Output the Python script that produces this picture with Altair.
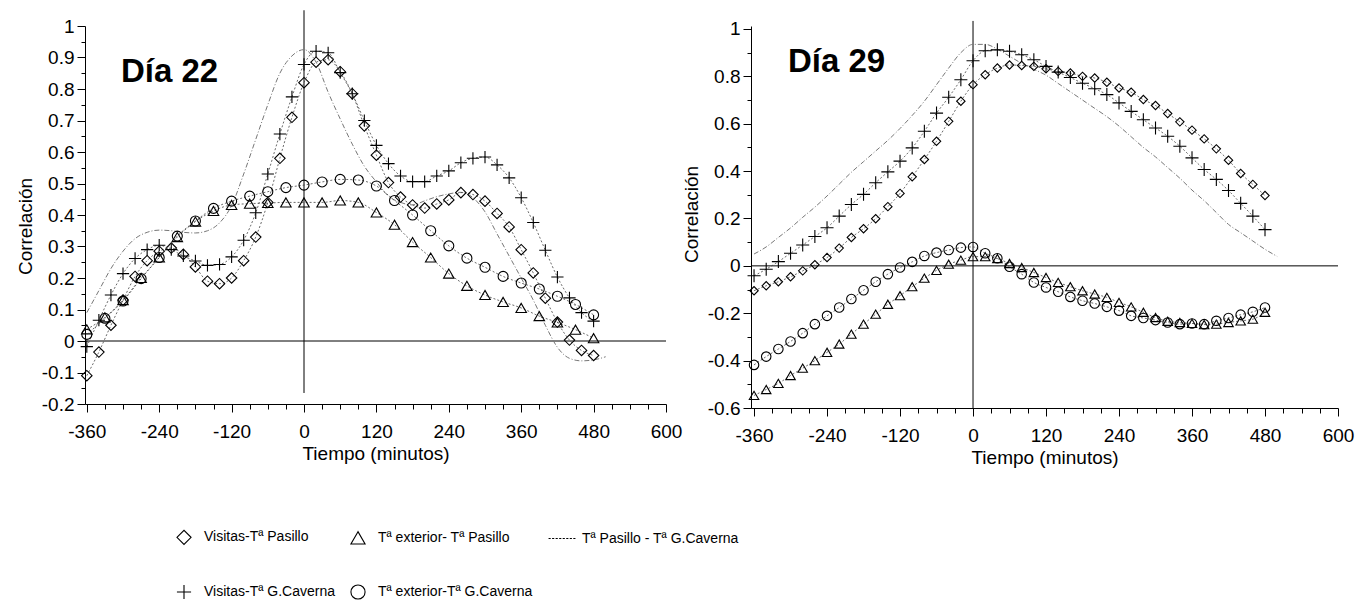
import altair as alt
import pandas as pd

FONT = "Liberation Sans"

NAMES = ["Visitas-Tª Pasillo", "Visitas-Tª G.Caverna", "Tª exterior- Tª Pasillo",
         "Tª exterior-Tª G.Caverna", "Tª Pasillo  - Tª G.Caverna"]
DOTTED = "M-1.9,0L-1.6,0M-1.4,0L-1.1,0M-0.9,0L-0.6,0M-0.4,0L-0.1,0M0.1,0L0.4,0M0.6,0L0.9,0M1.1,0L1.4,0M1.6,0L1.9,0"
SHAPES = ["diamond", "M-1,0L1,0M0,-1L0,1", "triangle-up", "circle", DOTTED]

# time grids (minutes)
t20 = [-360, -340, -320, -300, -280, -260, -240, -220, -200, -180,
       -160, -140, -120, -100, -80, -60, -40, -20, 0, 20,
       40, 60, 80, 100, 120, 140, 160, 180, 200, 220,
       240, 260, 280, 300, 320, 340, 360, 380, 400, 420,
       440, 460, 480]
t30 = [-360, -330, -300, -270, -240, -210, -180, -150, -120, -90,
       -60, -30, 0, 30, 60, 90, 120, 150, 180, 210,
       240, 270, 300, 330, 360, 390, 420, 450, 480]
t20_line = t20 + [500]

# ---- Día 22 ----
d22_visitas_pasillo = [-0.11, -0.035, 0.05, 0.13, 0.205, 0.255, 0.285, 0.295, 0.275, 0.235,
                       0.19, 0.182, 0.2, 0.255, 0.33, 0.44, 0.58, 0.71, 0.82, 0.885,
                       0.893, 0.855, 0.785, 0.683, 0.59, 0.503, 0.457, 0.432, 0.422, 0.435,
                       0.448, 0.471, 0.465, 0.444, 0.405, 0.362, 0.29, 0.216, 0.136, 0.06,
                       0.003, -0.03, -0.046]
d22_visitas_caverna = [-0.018, 0.066, 0.146, 0.214, 0.262, 0.29, 0.304, 0.29, 0.27, 0.254,
                       0.24, 0.243, 0.267, 0.32, 0.407, 0.53, 0.657, 0.775, 0.878, 0.92,
                       0.915, 0.852, 0.785, 0.7, 0.621, 0.563, 0.524, 0.506, 0.506, 0.524,
                       0.54, 0.566, 0.58, 0.584, 0.559, 0.518, 0.455, 0.376, 0.288, 0.203,
                       0.137, 0.09, 0.063]
d22_exterior_caverna = [0.021, 0.072, 0.127, 0.198, 0.265, 0.333, 0.381, 0.421, 0.444, 0.46,
                        0.474, 0.487, 0.495, 0.505, 0.513, 0.511, 0.492, 0.446, 0.4, 0.35,
                        0.302, 0.263, 0.234, 0.205, 0.184, 0.165, 0.142, 0.116, 0.083]
d22_exterior_pasillo = [0.037, 0.075, 0.13, 0.2, 0.265, 0.33, 0.379, 0.413, 0.432, 0.436,
                        0.438, 0.44, 0.44, 0.44, 0.446, 0.44, 0.408, 0.369, 0.314, 0.265,
                        0.214, 0.175, 0.146, 0.124, 0.105, 0.079, 0.059, 0.036, 0.009]
d22_pasillo_caverna = [0.09, 0.16, 0.23, 0.285, 0.325, 0.345, 0.352, 0.35, 0.345, 0.343,
                       0.35, 0.375, 0.43, 0.53, 0.64, 0.75, 0.85, 0.905, 0.925, 0.885,
                       0.79, 0.705, 0.625, 0.555, 0.505, 0.46, 0.44, 0.432, 0.445, 0.458,
                       0.467, 0.472, 0.455, 0.41, 0.34, 0.27, 0.2, 0.13, 0.05, -0.02,
                       -0.055, -0.063, -0.06, -0.05]

# ---- Día 29 ----
d29_visitas_pasillo = [-0.105, -0.084, -0.067, -0.046, -0.021, 0.005, 0.035, 0.075, 0.12, 0.157,
                       0.199, 0.25, 0.306, 0.376, 0.449, 0.526, 0.61, 0.695, 0.765, 0.807,
                       0.835, 0.848, 0.846, 0.842, 0.832, 0.821, 0.814, 0.8, 0.793, 0.775,
                       0.751, 0.733, 0.702, 0.677, 0.643, 0.608, 0.573, 0.536, 0.494, 0.446,
                       0.39, 0.344, 0.297]
d29_visitas_caverna = [-0.042, -0.014, 0.018, 0.053, 0.088, 0.124, 0.161, 0.21, 0.259, 0.302,
                       0.351, 0.397, 0.442, 0.498, 0.568, 0.645, 0.712, 0.786, 0.866, 0.908,
                       0.912, 0.906, 0.891, 0.87, 0.842, 0.818, 0.795, 0.771, 0.748, 0.723,
                       0.688, 0.652, 0.617, 0.582, 0.547, 0.505, 0.456, 0.407, 0.365, 0.318,
                       0.264, 0.21, 0.153]
d29_exterior_caverna = [-0.418, -0.383, -0.351, -0.319, -0.284, -0.246, -0.211, -0.176, -0.14, -0.103,
                        -0.067, -0.035, -0.007, 0.017, 0.042, 0.056, 0.067, 0.077, 0.08, 0.053,
                        0.032, -0.004, -0.035, -0.07, -0.091, -0.109, -0.131, -0.147, -0.159, -0.173,
                        -0.189, -0.211, -0.22, -0.229, -0.239, -0.246, -0.243, -0.246, -0.232, -0.22,
                        -0.206, -0.194, -0.176]
d29_exterior_pasillo = [-0.547, -0.522, -0.496, -0.463, -0.432, -0.4, -0.365, -0.33, -0.288, -0.246,
                        -0.204, -0.162, -0.126, -0.088, -0.052, -0.019, 0.007, 0.024, 0.039, 0.039,
                        0.031, 0.01, -0.007, -0.028, -0.049, -0.07, -0.088, -0.105, -0.119, -0.133,
                        -0.154, -0.173, -0.196, -0.218, -0.234, -0.239, -0.243, -0.248, -0.246, -0.239,
                        -0.232, -0.225, -0.196]
d29_pasillo_caverna = [0.05, 0.08, 0.12, 0.16, 0.205, 0.248, 0.295, 0.345, 0.395, 0.44,
                       0.485, 0.53, 0.58, 0.635, 0.695, 0.765, 0.835, 0.9, 0.935, 0.935,
                       0.915, 0.885, 0.855, 0.83, 0.805, 0.77, 0.735, 0.7, 0.665, 0.63,
                       0.59, 0.545, 0.5, 0.46, 0.415, 0.37, 0.32, 0.275, 0.225, 0.175,
                       0.14, 0.105, 0.07, 0.04]

x_ticks = list(range(-360, 601, 30))
y22_ticks = [round(-0.2 + 0.05 * i, 2) for i in range(25)]
y29_ticks = [round(-0.6 + 0.1 * i, 1) for i in range(17)]

shape_scale = alt.Scale(domain=NAMES, range=SHAPES)
legend = alt.Legend(
    title=None, orient="none", legendX=91, legendY=503, columns=3,
    labelFont=FONT, labelFontSize=14, labelColor="black", labelLimit=400,
    symbolSize=200, symbolStrokeWidth=1.1, symbolStrokeColor="black",
    symbolFillColor="white", columnPadding=13, rowPadding=35, labelOffset=12,
)


def make_panel(series, line_r, x_dom, y_dom, w, h, y_ticks, label_mod, vrule, title_txt, tdx, tdy, title_y):
    x_axis = alt.Axis(
        values=x_ticks, grid=False, title="Tiempo (minutos)",
        labelExpr="datum.value % 120 == 0 ? '' + datum.value : ''",
        tickSize={"condition": {"test": "datum.value % 120 == 0", "value": 8}, "value": 5},
        labelFont=FONT, labelFontSize=19, titleFont=FONT, titleFontSize=19,
        titleFontWeight="normal", labelPadding=10, titlePadding=3,
        domainColor="black", tickColor="black", labelColor="black", titleColor="black",
        labelFlush=False, labelOverlap=False,
    )
    test = f"abs(round(datum.value*{label_mod})) % 2 == 0"
    y_axis = alt.Axis(
        values=y_ticks, grid=False, title="Correlación",
        labelExpr=f"{test} ? replace(format(datum.value, '.1~f'), '\u2212', '-') : ''",
        tickSize={"condition": {"test": test, "value": 8}, "value": 4},
        labelFont=FONT, labelFontSize=19, titleFont=FONT, titleFontSize=19,
        titleFontWeight="normal", labelPadding=3, titlePadding=6, titleY=title_y,
        domainColor="black", tickColor="black", labelColor="black", titleColor="black",
        labelOverlap=False, labelFlush=False,
    )
    X = alt.X("t:Q", scale=alt.Scale(domain=x_dom, nice=False, zero=False), axis=x_axis)
    Y = alt.Y("r:Q", scale=alt.Scale(domain=y_dom, nice=False, zero=False), axis=y_axis)

    layers = []
    hz = alt.Chart(pd.DataFrame({"r": [0]})).mark_rule(color="black", strokeWidth=1).encode(y=Y)
    vt = alt.Chart(pd.DataFrame({"t": [0], "r": [vrule[0]], "r2": [vrule[1]]})).mark_rule(
        color="black", strokeWidth=1).encode(x=X, y=Y, y2="r2:Q")
    layers += [hz, vt]

    dfl = pd.DataFrame({"t": t20_line, "r": line_r})
    layers.append(alt.Chart(dfl).mark_line(color="#777", strokeWidth=1, strokeDash=[5, 2, 1, 2],
                                           interpolate="monotone").encode(x=X, y=Y))
    for name, tt, vals, size in series:
        df = pd.DataFrame({"t": tt, "r": vals, "series": name})
        layers.append(alt.Chart(df).mark_line(color="#444", strokeWidth=0.8, strokeDash=[2, 2],
                                              interpolate="monotone").encode(x=X, y=Y))
        layers.append(alt.Chart(df).mark_point(filled=False, color="black", strokeWidth=1.1,
                                               size=size, opacity=1).encode(
            x=X, y=Y, shape=alt.Shape("series:N", scale=shape_scale, legend=legend)))
    return alt.layer(*layers).properties(
        width=w, height=h,
        title=alt.TitleParams(title_txt, anchor="start", orient="top", frame="group", offset=0,
                              dx=tdx, dy=tdy, baseline="alphabetic", font=FONT, fontSize=33,
                              fontWeight="bold", color="black"),
    )


left = make_panel(
    [(NAMES[0], t20, d22_visitas_pasillo, 110),
     (NAMES[2], t30, d22_exterior_pasillo, 110),
     (NAMES[1], t20, d22_visitas_caverna, 150),
     (NAMES[3], t30, d22_exterior_caverna, 100)],
    d22_pasillo_caverna, [-363, 600], [-0.2, 1.0], 581, 378, y22_ticks, 20,
    (-0.165, 1.05), "Día 22", 36, 105, 200)

right = make_panel(
    [(NAMES[0], t20, d29_visitas_pasillo, 70),
     (NAMES[2], t20, d29_exterior_pasillo, 90),
     (NAMES[1], t20, d29_visitas_caverna, 170),
     (NAMES[3], t20, d29_exterior_caverna, 90)],
    d29_pasillo_caverna, [-365, 600], [-0.6, 1.0126], 587, 382, y29_ticks, 10,
    (-0.6, 1.034), "Día 29", 37, 85, 188)

chart = alt.hconcat(left, right, spacing=85, bounds="flush").resolve_scale(
    x="independent", y="independent", shape="shared"
).properties(
    padding={"left": 8, "top": 1, "right": 5, "bottom": 5},
    background="white",
).configure_view(stroke=None)

chart.save("out.html", embed_options={"renderer": "svg", "actions": False})
